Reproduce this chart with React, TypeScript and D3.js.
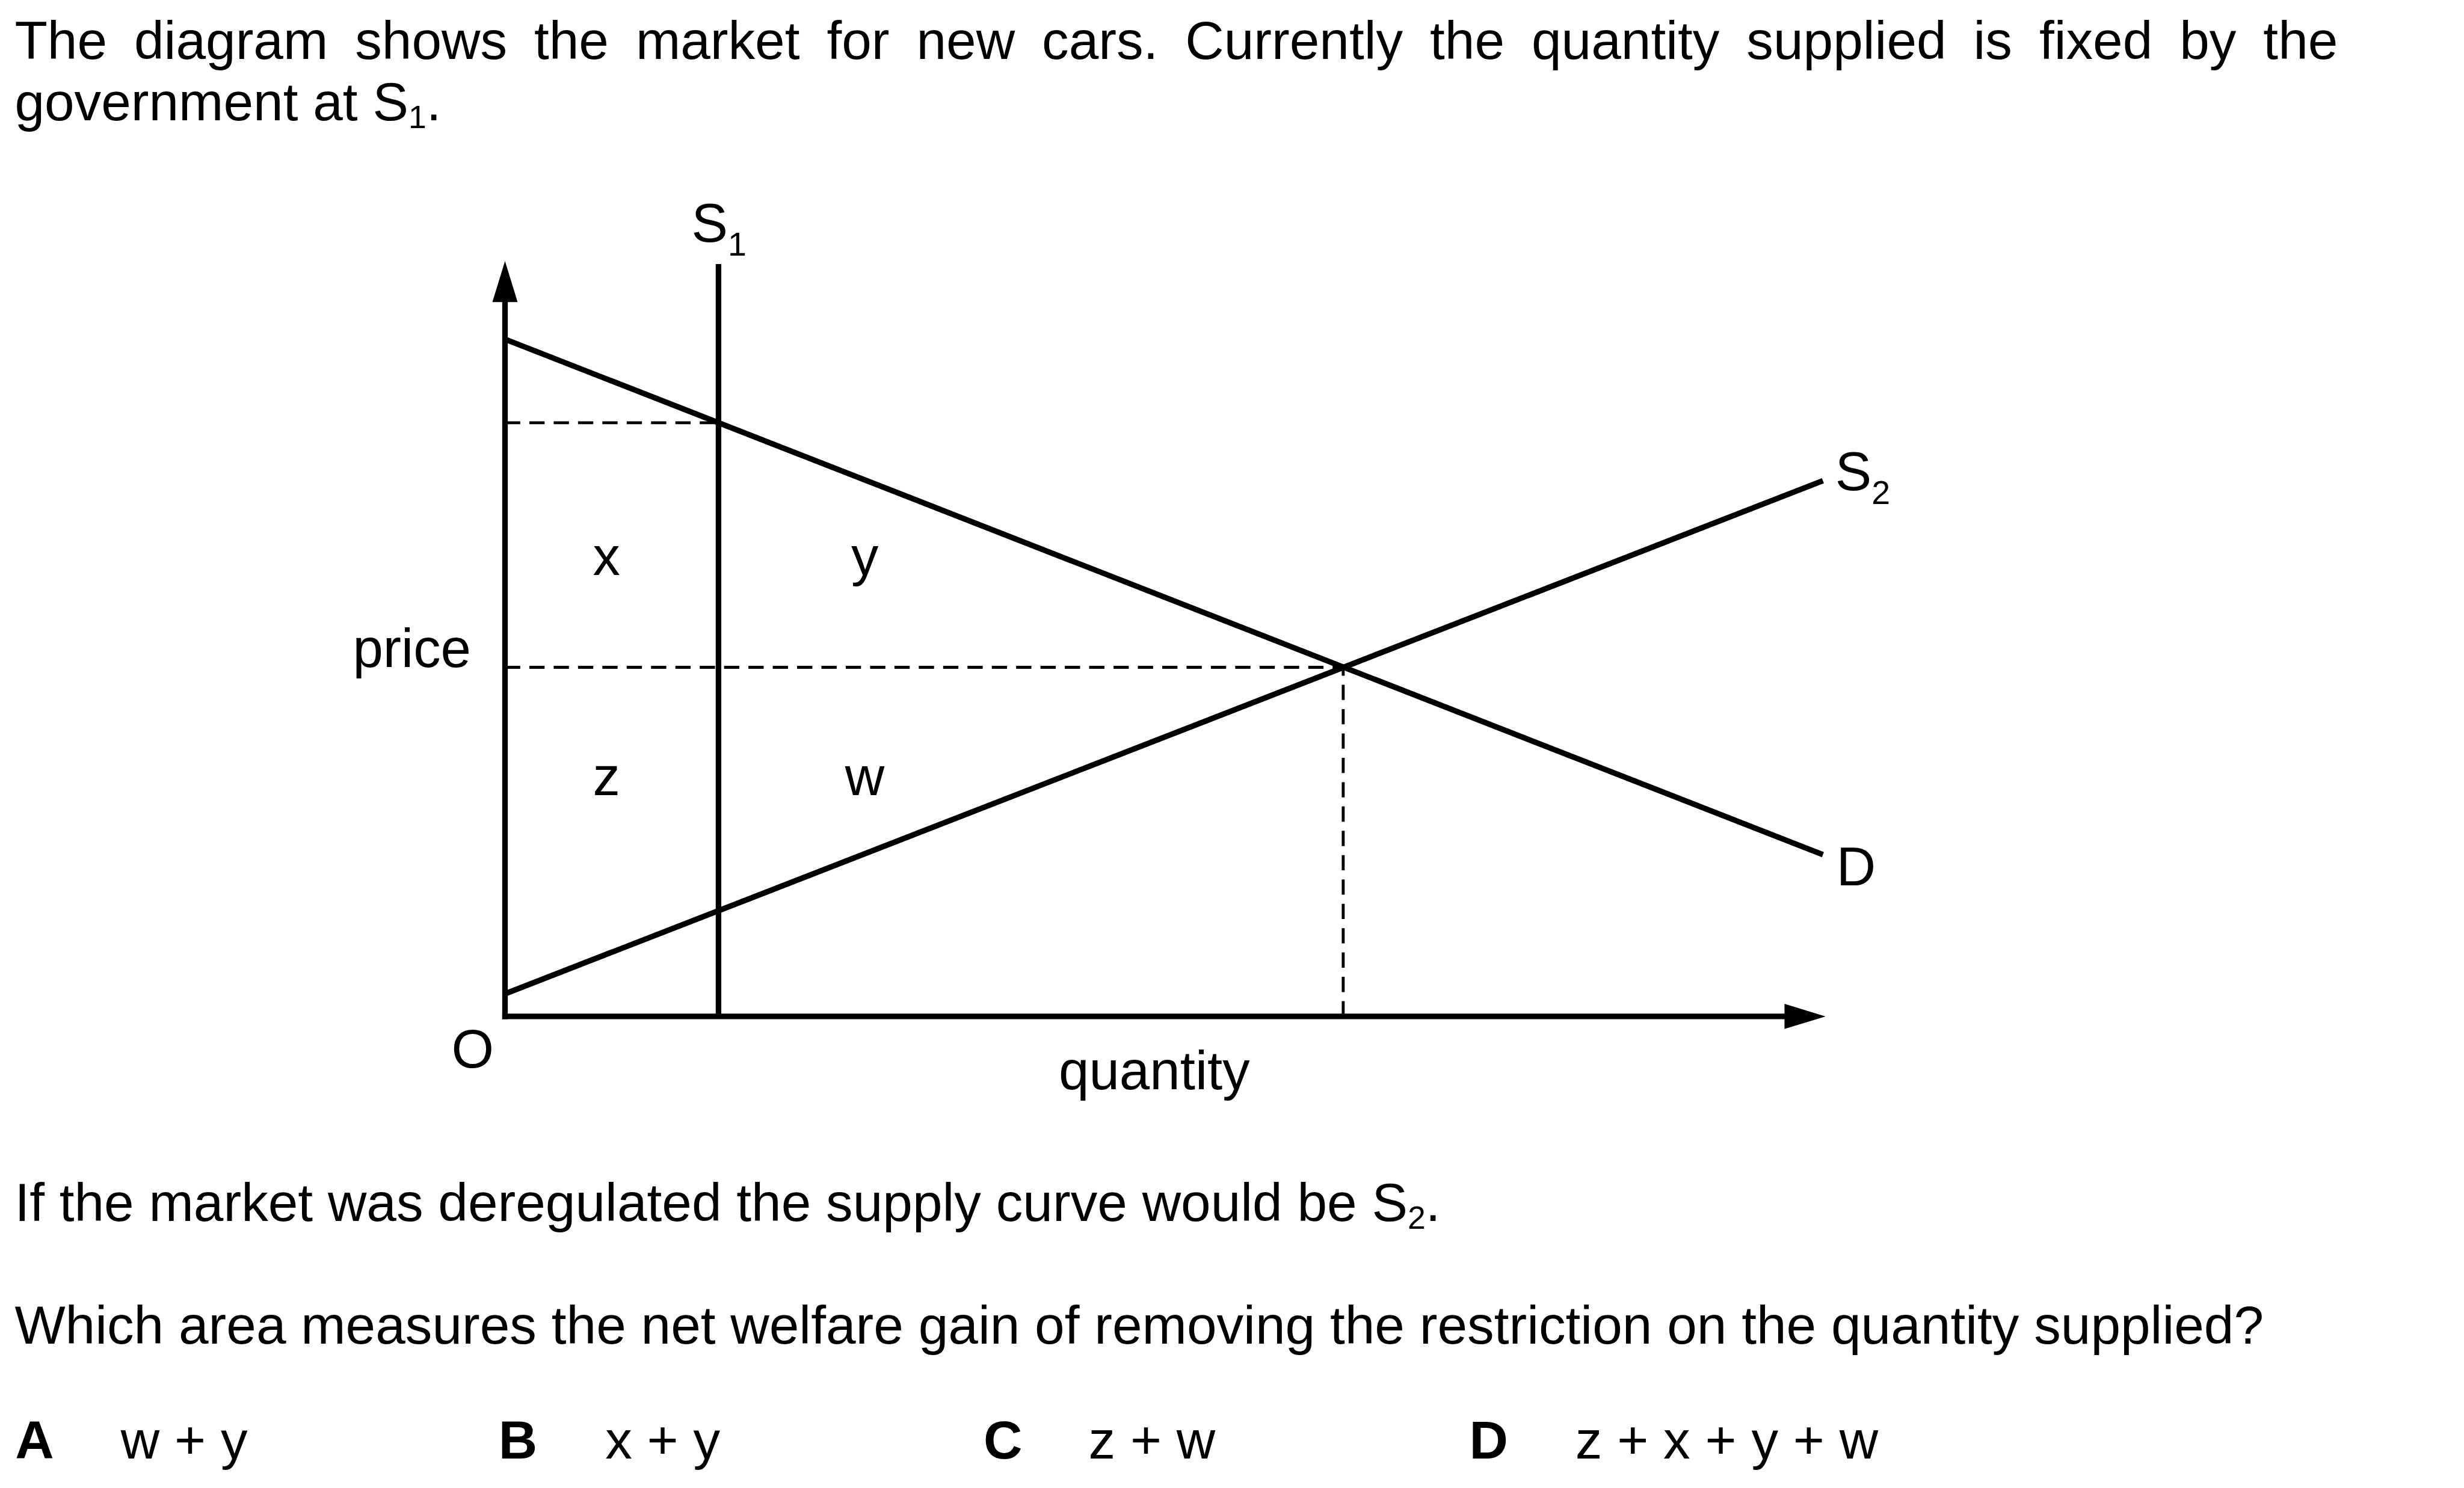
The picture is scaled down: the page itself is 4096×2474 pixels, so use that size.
import React, { useEffect, useRef } from "react";
import * as d3 from "d3";

interface Pt {
  q: number;
  p: number;
}

// question text
const introLine1 =
  "The diagram shows the market for new cars. Currently the quantity supplied is fixed by the";
const introLine2 = "government at S";
const deregLine = "If the market was deregulated the supply curve would be S";
const questionLine =
  "Which area measures the net welfare gain of removing the restriction on the quantity supplied?";

// answer options
const optionLetters = ["A", "B", "C", "D"];
const optionTexts = ["w + y", "x + y", "z + w", "z + x + y + w"];

// curves (quantity 0-10, price 0-10)
const demand: Pt[] = [
  { q: 0, p: 9.0 },
  { q: 10, p: 2.15 },
];
const supply2: Pt[] = [
  { q: 0, p: 0.3 },
  { q: 10, p: 7.12 },
];
const supply1: Pt[] = [
  { q: 1.62, p: 0 },
  { q: 1.62, p: 10 },
];
const equilibrium: Pt = { q: 6.36, p: 4.64 };
const restrictedPrice = 7.89; // demand price at S1

// welfare area labels
const areaNames = ["x", "y", "z", "w"];
const areaQ = [0.77, 2.73, 0.77, 2.73];
const areaP = [5.87, 5.87, 2.94, 2.94];

const App: React.FC = () => {
  const svgRef = useRef<SVGSVGElement | null>(null);

  useEffect(() => {
    const width = 4201;
    const height = 2537;
    const fontSize = 93; // diagram labels
    const proseSize = 91.5; // question text
    const subSize = 57;
    const font = "'Liberation Sans', Arial, Helvetica, sans-serif";

    const svg = d3
      .select(svgRef.current)
      .attr("viewBox", `0 0 ${width} ${height}`)
      .attr("width", 4096)
      .attr("height", 2474);
    svg.selectAll("*").remove();

    const g = svg.append("g").attr("font-family", font).attr("fill", "#000");

    // scales
    const x = d3.scaleLinear().domain([0, 10]).range([861, 3108]);
    const y = d3.scaleLinear().domain([0, 10]).range([1733, 450]);
    const line = d3
      .line<Pt>()
      .x((d) => x(d.q))
      .y((d) => y(d.p));

    // --- intro text, first line justified ---
    const left = 25;
    const right = 3986;
    const words = introLine1.split(" ");
    const widths = words.map((w) => {
      const t = g.append("text").attr("font-size", proseSize).text(w);
      const len = (t.node() as SVGTextElement).getComputedTextLength();
      t.remove();
      return len;
    });
    const gap = (right - left - d3.sum(widths)) / (words.length - 1);
    let cx = left;
    words.forEach((w, i) => {
      g.append("text")
        .attr("x", cx)
        .attr("y", 100)
        .attr("font-size", proseSize)
        .text(w);
      cx += widths[i] + gap;
    });

    const subLine = (txt: string, sub: string, yy: number) => {
      const t = g
        .append("text")
        .attr("x", left)
        .attr("y", yy)
        .attr("font-size", proseSize);
      t.append("tspan").text(txt);
      t.append("tspan").attr("font-size", 55).attr("dy", 13).text(sub);
      t.append("tspan").attr("dy", -13).text(".");
    };
    subLine(introLine2, "1", 205);
    subLine(deregLine, "2", 2082);

    g.append("text")
      .attr("x", left)
      .attr("y", 2291)
      .attr("font-size", proseSize)
      .text(questionLine);

    // options
    const letterX = [26, 850, 1677, 2505];
    const answerX = [206, 1032, 1856, 2686];
    optionLetters.forEach((l, i) => {
      g.append("text")
        .attr("x", letterX[i])
        .attr("y", 2487)
        .attr("font-size", proseSize)
        .attr("font-weight", "bold")
        .text(l);
      g.append("text")
        .attr("x", answerX[i])
        .attr("y", 2487)
        .attr("font-size", proseSize)
        .text(optionTexts[i]);
    });

    // --- diagram ---
    const axisW = 9.5;
    const arrowLen = 70;
    const arrowHalf = 21.5;
    const x0 = x(0);
    const y0 = y(0);
    const yTip = y(10.04);
    const xTip = x(10.02);

    // dashed guides
    const dash = "26 15.5";
    const guides: Pt[][] = [
      [
        { q: 0, p: restrictedPrice },
        { q: supply1[0].q, p: restrictedPrice },
      ],
      [
        { q: 0, p: equilibrium.p },
        { q: equilibrium.q, p: equilibrium.p },
      ],
      [
        { q: equilibrium.q, p: 0 },
        { q: equilibrium.q, p: equilibrium.p },
      ],
    ];
    guides.forEach((gd) => {
      g.append("path")
        .datum(gd)
        .attr("d", line)
        .attr("fill", "none")
        .attr("stroke", "#000")
        .attr("stroke-width", 5)
        .attr("stroke-dasharray", dash);
    });

    // axes
    g.append("line")
      .attr("x1", x0)
      .attr("y1", y0 + axisW / 2)
      .attr("x2", x0)
      .attr("y2", yTip + arrowLen - 2)
      .attr("stroke", "#000")
      .attr("stroke-width", axisW);
    g.append("polygon")
      .attr(
        "points",
        `${x0},${yTip} ${x0 - arrowHalf},${yTip + arrowLen} ${x0 + arrowHalf},${yTip + arrowLen}`
      );
    g.append("line")
      .attr("x1", x0 - axisW / 2)
      .attr("y1", y0)
      .attr("x2", xTip - arrowLen + 2)
      .attr("y2", y0)
      .attr("stroke", "#000")
      .attr("stroke-width", axisW);
    g.append("polygon")
      .attr(
        "points",
        `${xTip},${y0} ${xTip - arrowLen},${y0 - arrowHalf} ${xTip - arrowLen},${y0 + arrowHalf}`
      );

    // curves
    [supply1, demand, supply2].forEach((c) => {
      g.append("path")
        .datum(c)
        .attr("d", line)
        .attr("fill", "none")
        .attr("stroke", "#000")
        .attr("stroke-width", 9.5);
    });

    // curve labels
    const labelWithSub = (main: string, sub: string, lx: number, ly: number) => {
      const t = g
        .append("text")
        .attr("x", lx)
        .attr("y", ly)
        .attr("font-size", fontSize);
      t.append("tspan").text(main);
      t.append("tspan").attr("font-size", subSize).attr("dy", 24).text(sub);
    };
    labelWithSub("S", "1", x(supply1[1].q) - 46, y(supply1[1].p) - 38);
    labelWithSub("S", "2", x(10) + 21, y(supply2[1].p) + 16);
    g.append("text")
      .attr("x", x(10) + 23)
      .attr("y", y(demand[1].p) + 52)
      .attr("font-size", fontSize)
      .text("D");

    // area labels
    areaNames.forEach((n, i) => {
      g.append("text")
        .attr("x", x(areaQ[i]))
        .attr("y", y(areaP[i]))
        .attr("font-size", fontSize)
        .attr("text-anchor", "middle")
        .text(n);
    });

    // axis labels
    g.append("text")
      .attr("x", x0 - 58)
      .attr("y", y(equilibrium.p))
      .attr("font-size", fontSize)
      .attr("text-anchor", "end")
      .text("price");
    g.append("text")
      .attr("x", x0 - 55)
      .attr("y", y0 + 87)
      .attr("font-size", fontSize)
      .attr("text-anchor", "middle")
      .text("O");
    g.append("text")
      .attr("x", 1968)
      .attr("y", y0 + 124)
      .attr("font-size", fontSize)
      .attr("text-anchor", "middle")
      .text("quantity");
  }, []);

  return (
    <svg
      ref={svgRef}
      style={{ position: "absolute", left: 0, top: 0, display: "block", background: "#fff" }}
    ></svg>
  );
};

export default App;
